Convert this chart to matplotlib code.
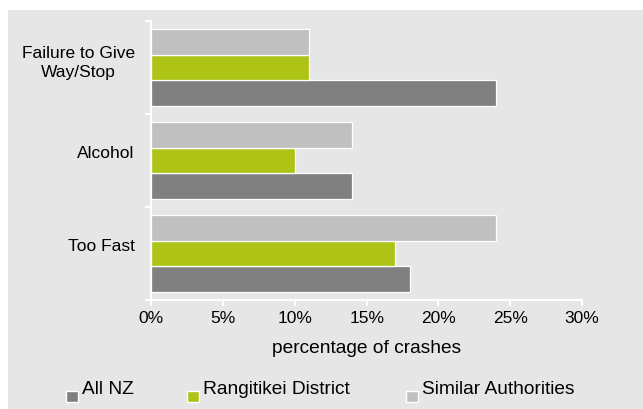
import matplotlib
matplotlib.use("Agg")
import matplotlib.pyplot as plt
import matplotlib.transforms as mtransforms
from matplotlib.patches import Rectangle
import numpy as np

plt.rcParams['font.family'] = ['Liberation Sans', 'DejaVu Sans']

# data (percent of crashes)
categories = ['Failure to Give\nWay/Stop', 'Alcohol', 'Too Fast']
series_names = ['All NZ', 'Rangitikei District', 'Similar Authorities']
all_nz = [24, 14, 18]
rangitikei = [11, 10, 17]
similar = [11, 14, 24]
x_ticks = [0, 5, 10, 15, 20, 25, 30]

COLORS = ['#808080', '#adc417', '#c0c0c0']
BG = '#e6e6e6'

fig = plt.figure(figsize=(6.43, 4.09), dpi=100, facecolor='white')
# grey panel with a thin white margin at the top and left
fig.patches.append(Rectangle((8 / 643, 0), 1, 1 - 10 / 409, transform=fig.transFigure,
                             facecolor=BG, edgecolor='none', zorder=-10))

ax = fig.add_axes([151.3 / 643, 1 - 300 / 409, (582 - 151.3) / 643, (300 - 21) / 409])
ax.set_facecolor(BG)
ax.set_zorder(1)

y = np.arange(len(categories))
h = 0.276
values = [all_nz, rangitikei, similar]
offsets = [h, 0, -h]
for vals, off, col, name in zip(values, offsets, COLORS, series_names):
    ax.barh(y + off, vals, height=h, color=col, edgecolor='white', linewidth=0.9, label=name)

ax.set_ylim(len(categories) - 0.5, -0.5)
ax.set_xlim(0, 30)
ax.set_xticks(x_ticks)
ax.set_xticklabels([f'{v}%' for v in x_ticks], fontsize=12.5)
ax.set_yticks(y)
ax.set_yticklabels(categories, fontsize=12.5, multialignment='center', linespacing=1.32)
ax.set_yticks(np.arange(len(categories) + 1) - 0.5, minor=True)

for s in ['top', 'right']:
    ax.spines[s].set_visible(False)
for s in ['left', 'bottom']:
    ax.spines[s].set_color('white')
    ax.spines[s].set_linewidth(1.5)

ax.tick_params(axis='y', which='major', length=0, pad=12)
ax.tick_params(axis='y', which='minor', length=4, width=1.5, color='white')
ax.tick_params(axis='x', length=4, width=1.5, color='white', pad=4)

# category labels sit a little above the group centre
shift = mtransforms.ScaledTranslation(0, 6 / 72, fig.dpi_scale_trans)
for lab in ax.get_yticklabels():
    lab.set_transform(lab.get_transform() + shift)

ax.set_xlabel('percentage of crashes', fontsize=13.8, labelpad=10)

# legend drawn by hand: small squares sitting below the text line
leg_x = [66, 187, 406]
for x0, col, name in zip(leg_x, COLORS, series_names):
    fig.patches.append(Rectangle((x0 / 643, 1 - 402 / 409), 12 / 643, 11 / 409,
                                 transform=fig.transFigure, facecolor=col,
                                 edgecolor='white', linewidth=1, zorder=2))
    fig.text((x0 + 16) / 643, 1 - 394.5 / 409, name, fontsize=13.8, va='baseline', ha='left')

fig.savefig('out.png', dpi=100, facecolor=fig.get_facecolor())
